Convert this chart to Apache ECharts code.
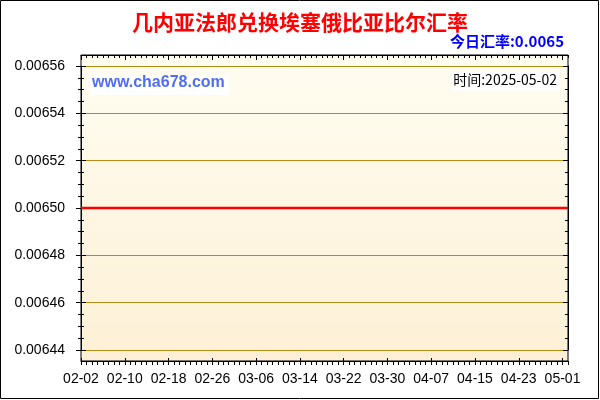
<!DOCTYPE html>
<html>
<head>
<meta charset="utf-8">
<script src="https://cdn.jsdelivr.net/npm/echarts@6/dist/echarts.min.js"></script>
<style>
  html, body { margin: 0; padding: 0; background: #fff; overflow: hidden; }
  #chart { width: 600px; height: 400px; }
</style>
</head>
<body>
<div id="chart"></div>
<script>
// daily dates shown on the x axis, 2025-02-02 .. 2025-05-02
var monthDays = [['02', 2, 28], ['03', 1, 31], ['04', 1, 30], ['05', 1, 2]];
var dates = [];
monthDays.forEach(function (m) {
  for (var d = m[1]; d <= m[2]; d++) {
    dates.push(m[0] + '-' + (d < 10 ? '0' + d : d));
  }
});

// exchange rate: flat at 0.0065 the whole period
var rates = [
  0.0065, 0.0065, 0.0065, 0.0065, 0.0065, 0.0065, 0.0065, 0.0065, 0.0065, 0.0065,
  0.0065, 0.0065, 0.0065, 0.0065, 0.0065, 0.0065, 0.0065, 0.0065, 0.0065, 0.0065,
  0.0065, 0.0065, 0.0065, 0.0065, 0.0065, 0.0065, 0.0065, 0.0065, 0.0065, 0.0065,
  0.0065, 0.0065, 0.0065, 0.0065, 0.0065, 0.0065, 0.0065, 0.0065, 0.0065, 0.0065,
  0.0065, 0.0065, 0.0065, 0.0065, 0.0065, 0.0065, 0.0065, 0.0065, 0.0065, 0.0065,
  0.0065, 0.0065, 0.0065, 0.0065, 0.0065, 0.0065, 0.0065, 0.0065, 0.0065, 0.0065,
  0.0065, 0.0065, 0.0065, 0.0065, 0.0065, 0.0065, 0.0065, 0.0065, 0.0065, 0.0065,
  0.0065, 0.0065, 0.0065, 0.0065, 0.0065, 0.0065, 0.0065, 0.0065, 0.0065, 0.0065,
  0.0065, 0.0065, 0.0065, 0.0065, 0.0065, 0.0065, 0.0065, 0.0065, 0.0065, 0.0065
];

var yMin = 0.00644;
var yMax = 0.00656;
var yStep = 0.00002;

var titleText = '几内亚法郎兑换埃塞俄比亚比尔汇率';
var todayText = '今日汇率:0.0065';
var siteText = 'www.cha678.com';
var timeText = '时间:2025-05-02';

var font = 'Arial, "Liberation Sans", sans-serif';
var black = '#000';

var chart = echarts.init(document.getElementById('chart'), null, { renderer: 'canvas' });

chart.setOption({
  animation: false,
  backgroundColor: '#fff',
  grid: [
    { // frame with the day ticks
      left: 81, right: 32, top: 55, bottom: 39,
      show: true, borderColor: black, borderWidth: 1,
      backgroundColor: new echarts.graphic.LinearGradient(0, 0, 0, 1, [
        { offset: 0, color: '#fffdf1' },
        { offset: 1, color: '#fdf0d6' }
      ])
    },
    { // value area, 0.00644 .. 0.00656
      left: 81, right: 32, top: 66, bottom: 50
    }
  ],
  xAxis: [
    {
      gridIndex: 0, type: 'category', position: 'bottom', data: dates, boundaryGap: false,
      axisLine: { lineStyle: { color: black, width: 1 } },
      axisTick: { interval: 0, length: 4, lineStyle: { color: black } },
      axisLabel: { interval: 7, color: black, fontSize: 14, fontFamily: font, margin: 11 },
      splitLine: { show: false }
    },
    {
      gridIndex: 0, type: 'category', position: 'bottom', data: dates, boundaryGap: false,
      axisLine: { show: false },
      axisTick: { interval: 7, inside: true, length: 3, lineStyle: { color: black } },
      axisLabel: { show: false },
      splitLine: { show: false }
    },
    {
      gridIndex: 0, type: 'category', position: 'top', data: dates, boundaryGap: false,
      axisLine: { lineStyle: { color: black } },
      axisTick: { interval: 0, inside: true, length: 3, lineStyle: { color: black } },
      axisLabel: { show: false },
      splitLine: { show: false }
    },
    {
      gridIndex: 0, type: 'category', position: 'top', data: dates, boundaryGap: false,
      axisLine: { show: false },
      axisTick: { interval: 7, inside: true, length: 5, lineStyle: { color: black } },
      axisLabel: { show: false },
      splitLine: { show: false }
    },
    {
      gridIndex: 1, type: 'category', data: dates, boundaryGap: false, show: false
    }
  ],
  yAxis: [
    { gridIndex: 0, type: 'value', show: false },
    {
      gridIndex: 1, type: 'value', position: 'left', min: yMin, max: yMax, interval: yStep,
      axisLine: { show: true, lineStyle: { color: black } },
      axisTick: { show: true, length: 5, lineStyle: { color: black } },
      minorTick: { show: true, splitNumber: 4, length: 3, lineStyle: { color: black } },
      axisLabel: {
        color: black, fontSize: 14, fontFamily: font, margin: 16,
        formatter: function (v) { return v.toFixed(5); }
      },
      splitLine: { show: true, lineStyle: { color: '#bb8a10', width: 1 } }
    },
    {
      gridIndex: 1, type: 'value', position: 'left', min: yMin, max: yMax, interval: yStep,
      axisLine: { show: false },
      axisTick: { show: true, inside: true, length: 5, lineStyle: { color: black } },
      minorTick: { show: true, splitNumber: 4, length: 3, lineStyle: { color: black } },
      axisLabel: { show: false },
      splitLine: { show: false }
    },
    {
      gridIndex: 1, type: 'value', position: 'right', min: yMin, max: yMax, interval: yStep,
      axisLine: { show: true, lineStyle: { color: black } },
      axisTick: { show: true, inside: true, length: 5, lineStyle: { color: black } },
      minorTick: { show: true, splitNumber: 4, length: 3, lineStyle: { color: black } },
      axisLabel: { show: false },
      splitLine: { show: false }
    }
  ],
  series: [{
    type: 'line',
    xAxisIndex: 4,
    yAxisIndex: 1,
    data: rates,
    showSymbol: false,
    lineStyle: { color: '#ff0000', width: 2.5 },
    z: 5
  }],
  graphic: [
    {
      type: 'rect', z: 100, silent: true,
      shape: { x: 0.5, y: 0.5, width: 598, height: 398 },
      style: { fill: 'none', stroke: black, lineWidth: 1 }
    },
    {
      type: 'text', left: 'center', top: 12,
      style: { text: titleText, fill: '#ff0000', font: 'bold 21px "Noto Sans CJK SC", sans-serif' }
    },
    {
      type: 'text', right: 36, top: 34,
      style: { text: todayText, fill: '#0000ff', font: 'bold 15px "Noto Sans CJK SC", Arial, sans-serif' }
    },
    {
      type: 'rect', left: 90, top: 75, z: 10,
      shape: { width: 139, height: 20 },
      style: { fill: '#fff' }
    },
    {
      type: 'text', left: 92, top: 75, z: 11,
      style: { text: siteText, fill: '#4f6ef2', font: 'bold 16px Arial, "Liberation Sans", sans-serif' }
    },
    {
      type: 'rect', right: 40, top: 72, z: 10,
      shape: { width: 108, height: 19 },
      style: { fill: '#fff' }
    },
    {
      type: 'text', right: 43, top: 73, z: 11,
      style: { text: timeText, fill: black, font: '14px "Noto Sans CJK SC", "DejaVu Sans", sans-serif' }
    }
  ]
});
</script>
</body>
</html>
